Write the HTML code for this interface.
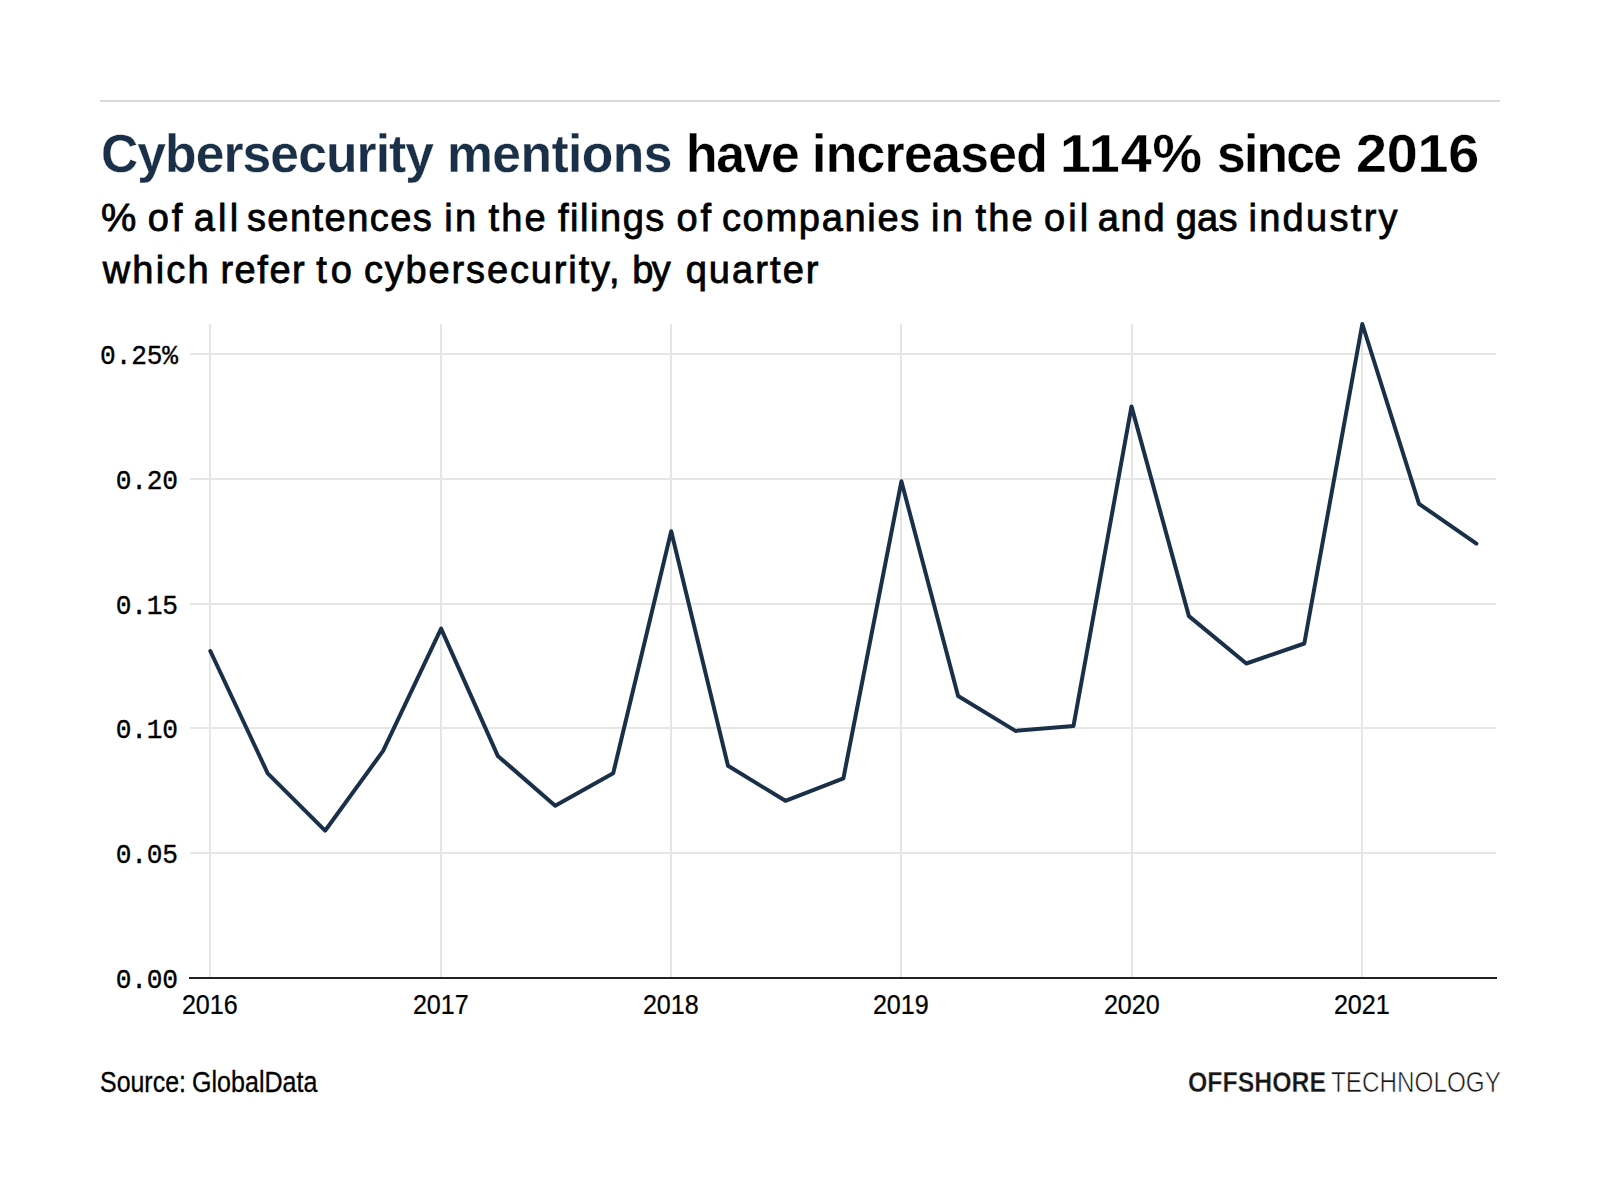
<!DOCTYPE html>
<html lang="en">
<head>
<meta charset="utf-8">
<title>Cybersecurity mentions have increased 114% since 2016</title>
<style>
html,body{margin:0;padding:0;background:#fff;}
body{width:1600px;height:1200px;position:relative;overflow:hidden;font-family:"Liberation Sans",sans-serif;color:#000;}
.rule{position:absolute;left:100px;top:100px;width:1400px;height:2px;background:#d9d9d9;}
h1,p{position:absolute;left:0;width:1600px;height:0;margin:0;font-weight:400;}
h1 span,p span{position:absolute;top:0;display:block;line-height:1;white-space:nowrap;transform-origin:0 50%;}
h1{top:127.0px;font-size:53.5px;font-weight:700;}
.sub{font-size:38px;-webkit-text-stroke:0.8px #000;}
.s1{top:198.5px;}
.s2{top:251px;}
.src{top:1067.5px;font-size:29px;-webkit-text-stroke:0.3px #000;}
.logo{top:1068.2px;font-size:29.2px;color:#161616;}
svg{position:absolute;left:0;top:0;}
.grid line{stroke:#e6e6e6;stroke-width:2;}
.ylab text{font-family:"Liberation Mono",monospace;font-size:26.2px;letter-spacing:-0.15px;text-anchor:end;fill:#000;stroke:#000;stroke-width:0.35px;}
.xlab text{font-family:"Liberation Sans",sans-serif;font-size:27px;text-anchor:middle;fill:#000;stroke:#000;stroke-width:0.25px;}
</style>
</head>
<body>
<div class="rule"></div>
<h1><span style="color:#1a2f48;left:100.92px;letter-spacing:-0.981px;transform:scaleX(0.965);-webkit-text-stroke:0.3px #fff;">Cybersecurity</span> <span style="color:#1a2f48;left:446.96px;letter-spacing:-0.605px;transform:scaleX(0.965);-webkit-text-stroke:0.3px #fff;">mentions</span> <span style="color:#000;left:685.71px;letter-spacing:-1.394px;transform:scaleX(0.965);-webkit-text-stroke:0.3px #fff;">have</span> <span style="color:#000;left:811.96px;letter-spacing:-0.685px;transform:scaleX(0.965);-webkit-text-stroke:0.3px #fff;">increased</span> <span style="color:#000;left:1059.73px;letter-spacing:0.890px;transform:scaleX(1.04);-webkit-text-stroke:0.3px #fff;">114%</span> <span style="color:#000;left:1216.88px;letter-spacing:-1.829px;transform:scaleX(0.965);-webkit-text-stroke:0.3px #fff;">since</span> <span style="color:#000;left:1356.31px;letter-spacing:-0.196px;transform:scaleX(1.04);-webkit-text-stroke:0.3px #fff;">2016</span></h1>
<p class="sub s1"><span style="left:101.35px;transform:scaleX(1.0453);">%</span> <span style="left:147.65px;letter-spacing:3.066px;">of</span> <span style="left:193.65px;letter-spacing:3.312px;">all</span> <span style="left:246.90px;letter-spacing:1.465px;">sentences</span> <span style="left:444.15px;letter-spacing:2.508px;">in</span> <span style="left:488.40px;letter-spacing:2.254px;">the</span> <span style="left:557.90px;letter-spacing:1.550px;">filings</span> <span style="left:676.40px;letter-spacing:3.066px;">of</span> <span style="left:721.90px;letter-spacing:1.711px;">companies</span> <span style="left:930.90px;letter-spacing:2.508px;">in</span> <span style="left:975.40px;letter-spacing:2.254px;">the</span> <span style="left:1043.90px;letter-spacing:3.187px;">oil</span> <span style="left:1097.65px;letter-spacing:1.841px;">and</span> <span style="left:1175.65px;letter-spacing:0.341px;">gas</span> <span style="left:1248.40px;letter-spacing:2.306px;">industry</span></p>
<p class="sub s2"><span style="left:102.65px;letter-spacing:2.233px;">which</span> <span style="left:220.40px;letter-spacing:1.555px;">refer</span> <span style="left:316.15px;letter-spacing:4.142px;">to</span> <span style="left:363.90px;letter-spacing:1.860px;">cybersecurity,</span> <span style="left:632.15px;letter-spacing:-1.434px;">by</span> <span style="left:685.65px;letter-spacing:2.075px;">quarter</span></p>
<svg width="1600" height="1200" viewBox="0 0 1600 1200">
<g class="grid"><line x1="190" x2="1496" y1="853" y2="853"/><line x1="190" x2="1496" y1="728" y2="728"/><line x1="190" x2="1496" y1="604" y2="604"/><line x1="190" x2="1496" y1="479" y2="479"/><line x1="190" x2="1496" y1="354" y2="354"/><line x1="210" x2="210" y1="324" y2="978"/><line x1="441" x2="441" y1="324" y2="978"/><line x1="671" x2="671" y1="324" y2="978"/><line x1="901" x2="901" y1="324" y2="978"/><line x1="1132" x2="1132" y1="324" y2="978"/><line x1="1362" x2="1362" y1="324" y2="978"/></g>
<line x1="189" x2="1497" y1="978" y2="978" stroke="#222" stroke-width="2"/>
<polyline fill="none" stroke="#1a2f48" stroke-width="4" stroke-linejoin="round" stroke-linecap="round" points="210.3,651.0 267.7,773.3 325.1,830.7 383.1,750.9 441.1,628.6 497.8,755.9 555.2,805.8 613.2,773.3 671.2,531.2 728.0,765.8 785.4,800.8 843.4,778.3 901.4,481.3 958.1,696.0 1015.5,730.9 1073.5,725.9 1131.5,406.4 1188.9,616.1 1246.3,663.5 1304.3,643.5 1362.3,324.0 1419.0,503.8 1476.4,543.7"/>
<g class="ylab"><text transform="translate(177.9,988.2) scale(1,1.09)">0.00</text><text transform="translate(177.9,863.2) scale(1,1.09)">0.05</text><text transform="translate(177.9,738.2) scale(1,1.09)">0.10</text><text transform="translate(177.9,614.2) scale(1,1.09)">0.15</text><text transform="translate(177.9,489.2) scale(1,1.09)">0.20</text><text transform="translate(177.9,364.2) scale(1,1.09)">0.25%</text></g>
<g class="xlab"><text transform="translate(209.8,1014) scale(0.93,1)">2016</text><text transform="translate(440.8,1014) scale(0.93,1)">2017</text><text transform="translate(670.8,1014) scale(0.93,1)">2018</text><text transform="translate(900.8,1014) scale(0.93,1)">2019</text><text transform="translate(1131.8,1014) scale(0.93,1)">2020</text><text transform="translate(1361.8,1014) scale(0.93,1)">2021</text></g>
</svg>
<p class="src"><span style="left:99.89px;transform:scaleX(0.8598);">Source:</span> <span style="left:191.99px;transform:scaleX(0.8644);">GlobalData</span></p>
<p class="logo"><span style="left:1187.70px;transform:scaleX(0.8507);font-weight:700;-webkit-text-stroke:0.3px #fff;">OFFSHORE</span> <span style="left:1330.60px;transform:scaleX(0.8314);font-weight:400;-webkit-text-stroke:0.6px #fff;">TECHNOLOGY</span></p>
</body>
</html>
